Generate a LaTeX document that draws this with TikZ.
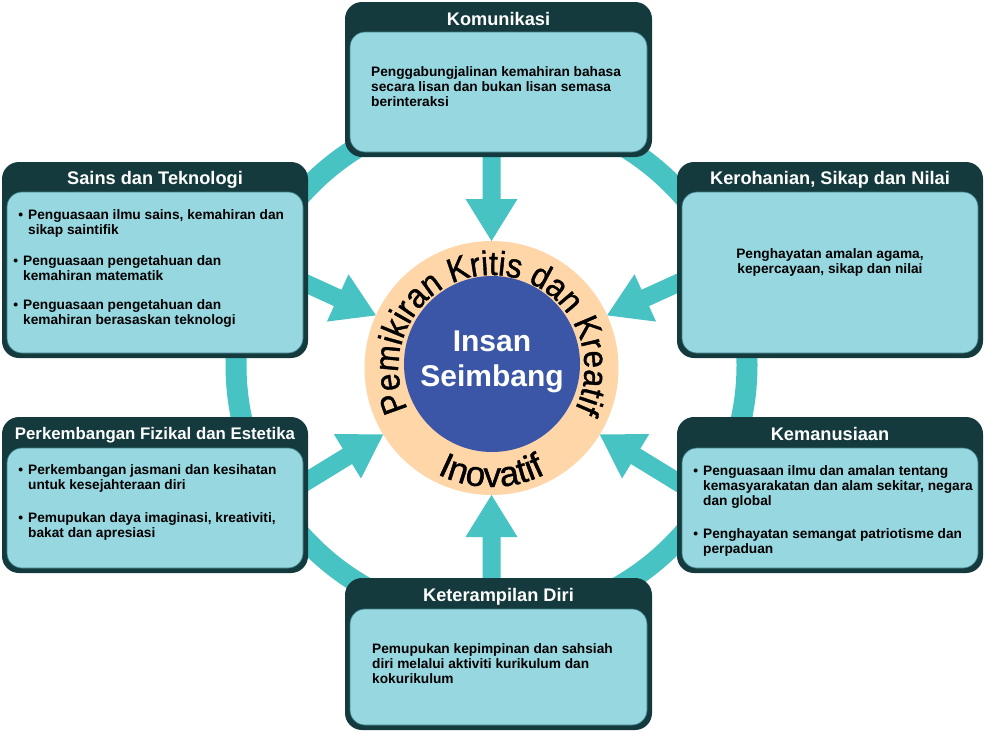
\documentclass[tikz,border=0pt]{standalone}
\usepackage{fontspec}
\setmainfont{Liberation Sans}
\newfontfamily\ringfont{Liberation Sans}[FakeStretch=0.92,FakeBold=1.2]
\newfontfamily\inofont{Liberation Sans}[FakeStretch=1.0,FakeBold=1.2]
\usetikzlibrary{calc,decorations.text}
\definecolor{darkteal}{HTML}{143A3E}
\definecolor{lightbox}{HTML}{96D7E0}
\definecolor{ringteal}{HTML}{48C3C3}
\definecolor{peach}{HTML}{FED6A7}
\definecolor{coreblue}{HTML}{3B56A6}
\definecolor{innerline}{HTML}{3E7E86}
\newcommand{\bul}{\llap{\textbullet\hspace{5pt}}}
\tikzset{
  outerbox/.style={fill=darkteal, rounded corners=17pt, inner sep=0pt, outer sep=0pt},
  innerbox/.style={fill=lightbox, draw=innerline, line width=0.7pt, rounded corners=15pt, inner sep=0pt},
  titletext/.style={text=white, font=\fontsize{18.2}{20}\selectfont\bfseries, inner sep=0pt, anchor=base},
  bodytext/.style={text=black, font=\fontsize{13.7}{15}\selectfont\bfseries, inner sep=0pt, align=left, anchor=north west},
  bigarrow/.style={fill=ringteal},
  bigring/.style={draw=ringteal, line width=21pt},
}
\begin{document}
\begin{tikzpicture}[x=1pt,y=1pt]
\fill[white] (0,0) rectangle (985,-732);
\useasboundingbox (0,0) rectangle (985,-732);

% big connecting ring
\coordinate (R) at (491.5,-365);
\draw[bigring] (R) circle[radius=255.5];

% centre circles
\coordinate (C) at (491.5,-368);
\fill[peach] (C) circle[radius=127];
\fill[coreblue] (492,-364) circle[radius=88];

% block arrows pointing to the centre
\foreach \a in {90,155.5,24.5,270,211.5,-31.5}{
  \begin{scope}[shift={(C)}, rotate=\a]
    \fill[bigarrow] (127,0) -- (169,26) -- (169,9) -- (255,9) -- (255,-9) -- (169,-9) -- (169,-26) -- cycle;
  \end{scope}
}

% ring texts
\path[decorate, decoration={text along path, text={|\ringfont\fontsize{34}{40}\selectfont|Pemikiran Kritis dan Kreatif}, text align=center}]
  (C) ++(220:93) arc[start angle=220, end angle=-40, radius=93];
\path[decorate, decoration={text along path, text={|\inofont\fontsize{35}{40}\selectfont|Inovatif}, text align=center}]
  (C) ++(225:119) arc[start angle=225, end angle=315, radius=119];

\node[text=white, font=\fontsize{30}{35}\selectfont\bfseries, align=center, inner sep=0pt] (core) at (492,-362) {Insan\\Seimbang};

% ---- Komunikasi
\node[outerbox, minimum width=307pt, minimum height=155pt] (kom) at (498.5,-79.5) {};
\node[innerbox, minimum width=297pt, minimum height=120pt] (komin) at (498.5,-92) {};
\node[titletext] (komt) at ($(kom.north)+(0,-23)$) {Komunikasi};
\node[bodytext] (komb) at (371,-66.3) {Penggabungjalinan kemahiran bahasa\\secara lisan dan bukan lisan semasa\\berinteraksi};

% ---- Sains dan Teknologi
\node[outerbox, minimum width=306pt, minimum height=196pt] (sai) at (155,-260) {};
\node[innerbox, minimum width=296pt, minimum height=161pt] (saiin) at (155,-272.5) {};
\node[titletext] (sait) at ($(sai.north)+(0,-22.5)$) {Sains dan Teknologi};
\node[bodytext] (saib1) at (28,-209.3) {\bul Penguasaan ilmu sains, kemahiran dan\\sikap saintifik};
\node[bodytext] (saib2) at (23,-255.3) {\bul Penguasaan pengetahuan dan\\kemahiran matematik};
\node[bodytext] (saib3) at (23,-299.3) {\bul Penguasaan pengetahuan dan\\kemahiran berasaskan teknologi};

% ---- Kerohanian
\node[outerbox, minimum width=306pt, minimum height=196pt] (ker) at (830,-260) {};
\node[innerbox, minimum width=296pt, minimum height=161pt] (kerin) at (830,-272.5) {};
\node[titletext] (kert) at ($(ker.north)+(0,-22.5)$) {Kerohanian, Sikap dan Nilai};
\node[bodytext, anchor=north, align=center] (kerb) at (830,-248.3) {Penghayatan amalan agama,\\kepercayaan, sikap dan nilai};

% ---- Perkembangan Fizikal
\node[outerbox, minimum width=306pt, minimum height=156pt] (per) at (155,-495) {};
\node[innerbox, minimum width=296pt, minimum height=120pt] (perin) at (155,-508) {};
\node[titletext, font=\fontsize{16.8}{19}\selectfont\bfseries] (pert) at ($(per.north)+(0,-22)$) {Perkembangan Fizikal dan Estetika};
\node[bodytext] (perb1) at (28,-464.3) {\bul Perkembangan jasmani dan kesihatan\\untuk kesejahteraan diri};
\node[bodytext] (perb2) at (28,-512.3) {\bul Pemupukan daya imaginasi, kreativiti,\\bakat dan apresiasi};

% ---- Kemanusiaan
\node[outerbox, minimum width=306pt, minimum height=156pt] (kem) at (830,-495) {};
\node[innerbox, minimum width=296pt, minimum height=120pt] (kemin) at (830,-508) {};
\node[titletext] (kemt) at ($(kem.north)+(0,-23)$) {Kemanusiaan};
\node[bodytext] (kemb1) at (703,-465.3) {\bul Penguasaan ilmu dan amalan tentang\\kemasyarakatan dan alam sekitar, negara\\dan global};
\node[bodytext] (kemb2) at (703,-528.3) {\bul Penghayatan semangat patriotisme dan\\perpaduan};

% ---- Keterampilan Diri
\node[outerbox, minimum width=307pt, minimum height=152pt] (ket) at (498.5,-654) {};
\node[innerbox, minimum width=297pt, minimum height=116pt] (ketin) at (498.5,-667) {};
\node[titletext] (kett) at ($(ket.north)+(0,-23.5)$) {Keterampilan Diri};
\node[bodytext] (ketb) at (372,-643.3) {Pemupukan kepimpinan dan sahsiah\\diri melalui aktiviti kurikulum dan\\kokurikulum};
\end{tikzpicture}
\end{document}
